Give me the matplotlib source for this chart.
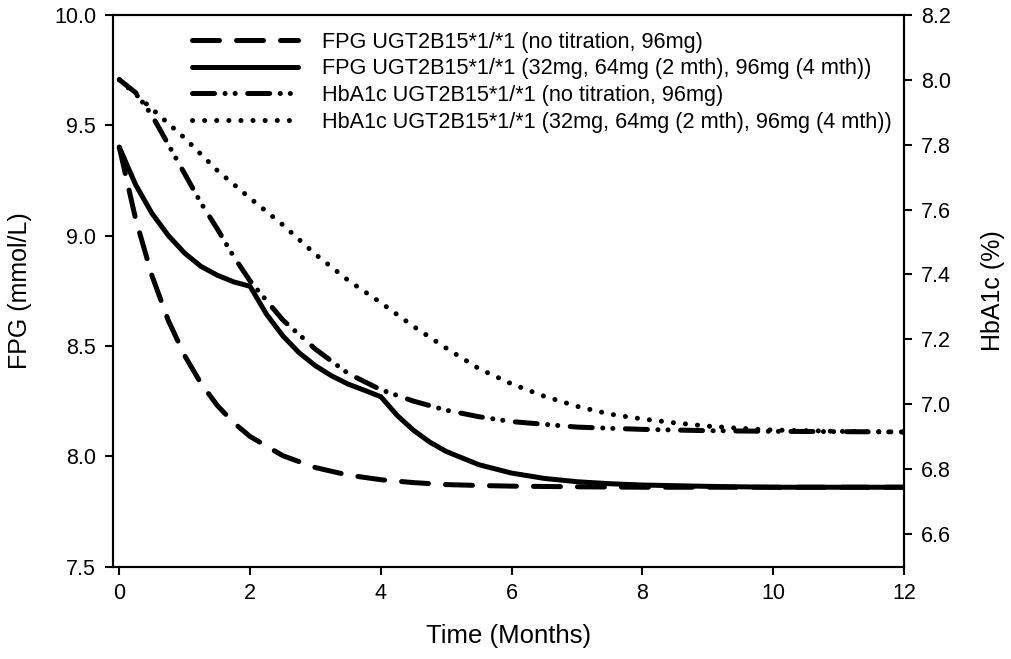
import numpy as np
import matplotlib
matplotlib.use("Agg")
import matplotlib.pyplot as plt

plt.rcParams['font.family'] = ['Liberation Sans', 'DejaVu Sans']

# time points (months)
t_fpg_std = [0, 0.25, 0.5, 0.75, 1, 1.25, 1.5, 1.75, 2, 2.5, 3, 3.5, 4, 4.5, 5, 5.5, 6, 7, 8, 9, 10, 11, 12]
fpg_std = [9.40, 9.075, 8.818, 8.615, 8.456, 8.33, 8.23, 8.152, 8.09, 8.003, 7.949, 7.915, 7.894,
           7.881, 7.872, 7.868, 7.865, 7.862, 7.86, 7.86, 7.86, 7.86, 7.86]

t_fpg_tit = [0, 0.25, 0.5, 0.75, 1, 1.25, 1.5, 1.75, 2, 2.25, 2.5, 2.75, 3, 3.25, 3.5, 3.75, 4,
             4.25, 4.5, 4.75, 5, 5.5, 6, 6.5, 7, 7.5, 8, 9, 10, 11, 12]
fpg_tit = [9.40, 9.23, 9.10, 9.00, 8.92, 8.86, 8.82, 8.79, 8.77, 8.644, 8.546, 8.469, 8.41, 8.364, 8.327, 8.299, 8.27,
           8.185, 8.118, 8.064, 8.022, 7.962, 7.924, 7.90, 7.885, 7.876, 7.87, 7.864, 7.86, 7.86, 7.86]

t_hba_std = [0, 0.25, 0.5, 0.75, 1, 1.25, 1.5, 1.75, 2, 2.5, 3, 3.5, 4, 4.5, 5, 5.5, 6, 7, 8, 9, 10, 11, 12]
hba_std = [8.00, 7.96, 7.89, 7.80, 7.71, 7.62, 7.54, 7.455, 7.38, 7.26, 7.17, 7.095, 7.045, 7.01, 6.982,
           6.962, 6.947, 6.93, 6.923, 6.919, 6.917, 6.916, 6.915]

t_hba_tit = [0, 0.5, 1, 1.5, 2, 2.5, 3, 3.5, 4, 4.5, 5, 5.5, 6, 6.5, 7, 7.5, 8, 8.5, 9, 9.5, 10, 11, 12]
hba_tit = [8.00, 7.91, 7.82, 7.72, 7.635, 7.553, 7.462, 7.382, 7.313, 7.24, 7.173, 7.11, 7.063, 7.025,
           6.994, 6.97, 6.955, 6.943, 6.933, 6.926, 6.921, 6.917, 6.915]

labels = ["FPG UGT2B15*1/*1 (no titration, 96mg)",
          "FPG UGT2B15*1/*1 (32mg, 64mg (2 mth), 96mg (4 mth))",
          "HbA1c UGT2B15*1/*1 (no titration, 96mg)",
          "HbA1c UGT2B15*1/*1 (32mg, 64mg (2 mth), 96mg (4 mth))"]

lw = 3.6
fig = plt.figure(figsize=(10.12, 6.59), dpi=100)
ax = fig.add_axes([0.1114, 0.140, 0.7819, 0.8377])
ax2 = ax.twinx()

l1, = ax.plot(t_fpg_std, fpg_std, color='black', lw=lw, dashes=[5.4, 3.4], dash_capstyle='round')
l2, = ax.plot(t_fpg_tit, fpg_tit, color='black', lw=lw, solid_capstyle='round')
l3, = ax2.plot(t_hba_std, hba_std, color='black', lw=lw,
               dashes=[4.4, 2.1, 0.02, 2.0, 0.02, 2.5], dash_capstyle='round')
l4, = ax2.plot(t_hba_tit, hba_tit, color='black', lw=lw, dashes=[0.02, 2.4], dash_capstyle='round')

ax.set_xlim(-0.1, 12)
ax.set_ylim(7.5, 10.0)
ax2.set_ylim(6.5, 8.2)
ax.set_xticks(np.arange(0, 13, 2))
ax.set_yticks(np.arange(7.5, 10.01, 0.5))
ax2.set_yticks(np.arange(6.6, 8.21, 0.2))
ax.yaxis.set_major_formatter(matplotlib.ticker.FormatStrFormatter('%.1f'))
ax2.yaxis.set_major_formatter(matplotlib.ticker.FormatStrFormatter('%.1f'))

for a in (ax, ax2):
    for s in a.spines.values():
        s.set_linewidth(1.5)
    a.tick_params(direction='out', length=6, width=1.5, labelsize=15.5, pad=6)

ax.set_xlabel("Time (Months)", fontsize=18.5, labelpad=14)
ax.set_ylabel("FPG (mmol/L)", fontsize=18, labelpad=16)
ax2.set_ylabel("HbA1c (%)", fontsize=18, labelpad=22)

ax.legend([l1, l2, l3, l4], labels, loc='upper left', bbox_to_anchor=(0.10, 0.969),
          frameon=False, fontsize=15.6, handlelength=4.9, handletextpad=1.1,
          labelspacing=0.26, borderpad=0, borderaxespad=0)

fig.savefig('out.png', dpi=100)
